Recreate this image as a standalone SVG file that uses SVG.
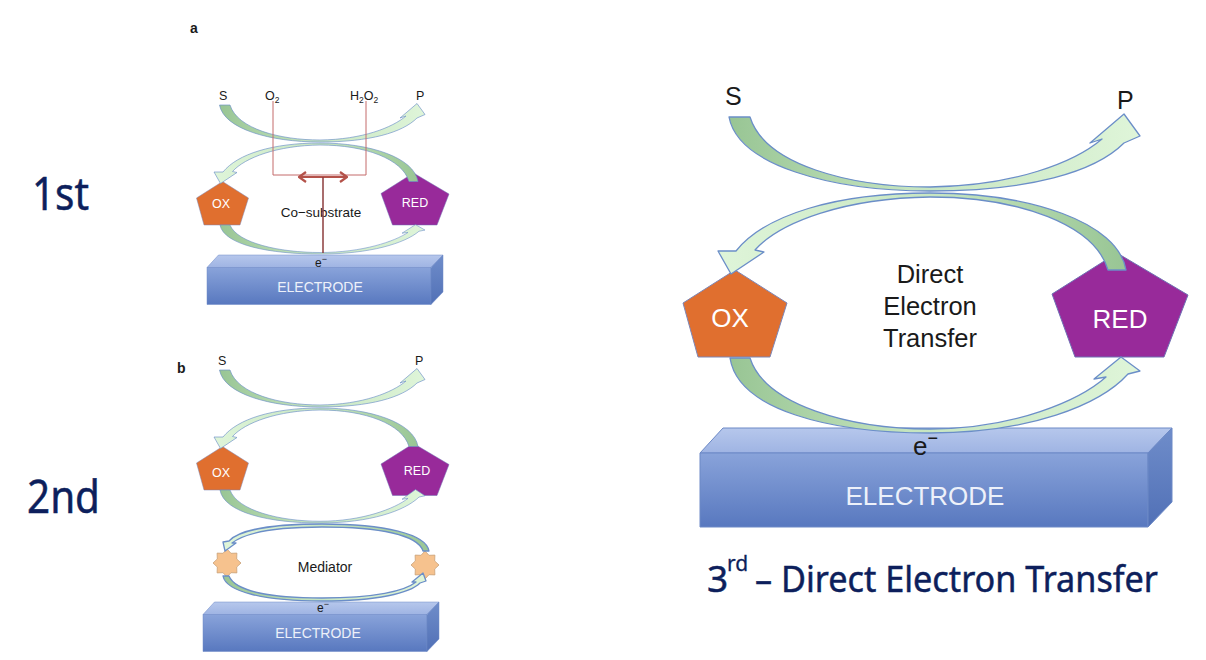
<svg xmlns="http://www.w3.org/2000/svg" width="1206" height="660" viewBox="0 0 1206 660">
<style>
.lbl{font-family:"Noto Sans","Open Sans",sans-serif;fill:#0d1f5c;stroke:#0d1f5c;stroke-width:0.5}
.t{font-family:"Liberation Sans",Arial,sans-serif;fill:#1a1a1a}
.w{font-family:"Liberation Sans",Arial,sans-serif;fill:#ffffff}
.el{font-family:"Liberation Sans",Arial,sans-serif;fill:#edf1fa}
.arw{stroke:#6b8ec8;stroke-width:1.3;stroke-linejoin:round}
.ox{fill:#e06f2f;stroke:#7d86b6;stroke-width:1}
.red{fill:#982a9a;stroke:#6f70b4;stroke-width:1}
.star{fill:#f6c28e;stroke:#c9a27a;stroke-width:0.8}
.eface{stroke:#6c89c6;stroke-width:1;stroke-linejoin:round}
</style>
<defs>
<linearGradient id="gLR" x1="0" y1="0" x2="1" y2="0"><stop offset="0" stop-color="#98c594"/><stop offset="0.45" stop-color="#c6e5c0"/><stop offset="1" stop-color="#dff5d9"/></linearGradient>
<linearGradient id="gRL" x1="1" y1="0" x2="0" y2="0"><stop offset="0" stop-color="#98c594"/><stop offset="0.45" stop-color="#c6e5c0"/><stop offset="1" stop-color="#dff5d9"/></linearGradient>
<linearGradient id="gFront" x1="0" y1="0" x2="0" y2="1"><stop offset="0" stop-color="#89a3da"/><stop offset="1" stop-color="#5878bf"/></linearGradient>
<linearGradient id="gTop" x1="0" y1="0" x2="0" y2="1"><stop offset="0" stop-color="#b6c7ec"/><stop offset="1" stop-color="#9fb4e3"/></linearGradient>
<linearGradient id="gSide" x1="0" y1="0" x2="0" y2="1"><stop offset="0" stop-color="#6f8dca"/><stop offset="1" stop-color="#5170b6"/></linearGradient>
<path id="arcTop" class="arw" fill="url(#gLR)" d="M729 117 C738 165 830 191 930 191 C1030 191 1095 172 1124 143 L1140 136 L1124 114 L1090 143 L1102 139 C1075 162 1015 186 930 187 C850 187 765 165 750 117 Z"/>
<path id="arcMid" class="arw" fill="url(#gRL)" d="M1126 270 C1118 222 1030 193 930 193 C835 193 765 215 736 251 L718 251 L731 274 L764 252 L755 250 C780 222 845 198 930 197 C1020 197 1095 225 1108 270 Z"/>
<path id="arcLow" class="arw" fill="url(#gLR)" d="M730 358 C738 410 830 433 930 433 C1030 433 1100 405 1128 374 L1140 371 L1121 357 L1094 379 L1106 377 C1080 400 1015 429 930 429 C850 429 765 405 750 358 Z"/>
<polygon id="pentOX" class="ox" points="735,270 787,303 770,357 698,357 683,303"/>
<polygon id="pentRED" class="red" points="1117,253 1188,295 1164,357 1075,357 1052,294"/>
<g id="electrodeShape">
<polygon class="eface" fill="url(#gTop)" points="700,453 723,428 1172,428 1148,453"/>
<rect class="eface" fill="url(#gFront)" x="700" y="453" width="448" height="74"/>
<polygon class="eface" fill="url(#gSide)" points="1148,453 1172,428 1172,502 1148,527"/>
</g>
<polygon id="star8" class="star" points="0,-14 4.02,-9.7 9.9,-9.9 9.7,-4.02 14,0 9.7,4.02 9.9,9.9 4.02,9.7 0,14 -4.02,9.7 -9.9,9.9 -9.7,4.02 -14,0 -9.7,-4.02 -9.9,-9.9 -4.02,-9.7"/>
</defs>

<rect width="1206" height="660" fill="#ffffff"/>

<!-- side labels -->
<g id="label-1st"><text class="lbl" x="32" y="210" font-size="45" textLength="57" lengthAdjust="spacingAndGlyphs">1st</text></g>
<g id="label-2nd"><text class="lbl" x="27" y="513" font-size="45" textLength="73" lengthAdjust="spacingAndGlyphs">2nd</text></g>
<g id="label-3rd">
<text class="lbl" x="707" y="592" font-size="37">3</text>
<text class="lbl" x="727" y="571" font-size="21" style="stroke-width:0.3">rd</text>
<text class="lbl" x="755" y="592" font-size="37" textLength="403" lengthAdjust="spacingAndGlyphs">– Direct Electron Transfer</text>
</g>

<!-- ===== panel a nodes ===== -->
<g id="a-title"><text class="t" x="190" y="33" font-size="14" font-weight="bold">a</text></g>
<g id="a-S"><text class="t" x="219" y="100" font-size="12.5">S</text></g>
<g id="a-O2"><text class="t" x="265" y="100" font-size="12.5">O<tspan font-size="8.5" dy="3">2</tspan></text></g>
<g id="a-H2O2"><text class="t" x="350" y="100" font-size="12.5">H<tspan font-size="8.5" dy="3">2</tspan><tspan dy="-3">O</tspan><tspan font-size="8.5" dy="3">2</tspan></text></g>
<g id="a-P"><text class="t" x="416" y="100" font-size="12.5">P</text></g>
<g id="a-electrode">
<use href="#electrodeShape" transform="translate(-143,41) scale(0.5)"/>
<text class="el" x="320" y="292" font-size="14" text-anchor="middle">ELECTRODE</text>
</g>
<g id="a-electron"><text class="t" x="315" y="267" font-size="12">e<tspan font-size="9" dy="-5">−</tspan></text></g>
<g id="a-ox">
<use href="#pentOX" transform="translate(-145,46.5) scale(0.5)"/>
<text class="w" x="221" y="208" font-size="12.5" text-anchor="middle">OX</text>
</g>
<g id="a-red">
<use href="#pentRED" transform="translate(-145,46.5) scale(0.5)"/>
<text class="w" x="415" y="207" font-size="12.5" text-anchor="middle">RED</text>
</g>
<g id="a-cosubstrate"><text class="t" x="321" y="217" font-size="13.5" text-anchor="middle" fill="#333">Co−substrate</text></g>

<!-- ===== panel b nodes ===== -->
<g id="b-title"><text class="t" x="177" y="373" font-size="14" font-weight="bold">b</text></g>
<g id="b-S"><text class="t" x="218" y="365" font-size="12.5">S</text></g>
<g id="b-P"><text class="t" x="415" y="365" font-size="12.5">P</text></g>
<g id="b-electrode">
<use href="#electrodeShape" transform="translate(-147,388) scale(0.5)"/>
<text class="el" x="318" y="638" font-size="14" text-anchor="middle">ELECTRODE</text>
</g>
<g id="b-electron"><text class="t" x="317" y="612" font-size="12">e<tspan font-size="9" dy="-5">−</tspan></text></g>
<g id="b-ox">
<use href="#pentOX" transform="translate(-145,311.5) scale(0.5)"/>
<text class="w" x="221" y="477" font-size="12.5" text-anchor="middle">OX</text>
</g>
<g id="b-red">
<use href="#pentRED" transform="translate(-145,317) scale(0.5)"/>
<text class="w" x="417" y="475" font-size="12.5" text-anchor="middle">RED</text>
</g>
<g id="b-mediator-left"><use href="#star8" transform="translate(227,563)"/></g>
<g id="b-mediator-right"><use href="#star8" transform="translate(425,565)"/></g>
<g id="b-mediator"><text class="t" x="325" y="572" font-size="14" text-anchor="middle" fill="#333">Mediator</text></g>

<!-- ===== panel c nodes ===== -->
<g id="c-S"><text class="t" x="725" y="105" font-size="25">S</text></g>
<g id="c-P"><text class="t" x="1117" y="109" font-size="25">P</text></g>
<g id="c-electrode">
<use href="#electrodeShape"/>
<text class="el" x="925" y="505" font-size="26" text-anchor="middle">ELECTRODE</text>
</g>
<g id="c-electron"><text class="t" x="913" y="455" font-size="26">e<tspan font-size="18" dy="-11">−</tspan></text></g>
<g id="c-ox">
<use href="#pentOX"/>
<text class="w" x="730" y="327" font-size="26" text-anchor="middle">OX</text>
</g>
<g id="c-red">
<use href="#pentRED"/>
<text class="w" x="1120" y="328" font-size="26" text-anchor="middle">RED</text>
</g>
<g id="c-det">
<text class="t" x="930" y="283" font-size="25.5" text-anchor="middle">Direct</text>
<text class="t" x="930" y="315" font-size="25.5" text-anchor="middle">Electron</text>
<text class="t" x="930" y="347" font-size="25.5" text-anchor="middle">Transfer</text>
</g>

<!-- ===== connectors ===== -->
<g id="connectors">
<!-- panel a -->
<use href="#arcTop" transform="translate(-145,46.5) scale(0.5)"/>
<use href="#arcMid" transform="translate(-145,46.5) scale(0.5)"/>
<use href="#arcLow" transform="translate(-145,86.5) scale(0.5,0.387)"/>
<path d="M273 101V175H366V101" fill="none" stroke="#c46a6a" stroke-width="1"/>
<path d="M299 177H347" fill="none" stroke="#b4524a" stroke-width="2.2"/>
<path d="M306 172L299 177L306 182M340 172L347 177L340 182" fill="none" stroke="#b4524a" stroke-width="2.2" stroke-linejoin="round"/>
<path d="M323 177V253" fill="none" stroke="#8d3c3c" stroke-width="1.5"/>
<!-- panel b -->
<use href="#arcTop" transform="translate(-145,311.5) scale(0.5)"/>
<use href="#arcMid" transform="translate(-145,311.5) scale(0.5)"/>
<use href="#arcLow" transform="translate(-145,332.5) scale(0.5,0.44)"/>
<path class="arw" fill="url(#gRL)" stroke-width="0.8" d="M429 551 C426 534 385 524 322 524 C268 524 238 531 229 541 L223 542 L225 551 L236 543 L232 543 C245 533 275 527 322 527 C380 527 418 535 423 551 Z"/>
<path class="arw" fill="url(#gLR)" stroke-width="0.8" d="M223 576 C226 592 265 601 322 601 C378 601 410 593 420 583 L426 581 L423 573 L412 582 L416 582 C405 591 375 598 322 598 C270 598 235 591 229 576 Z"/>
<!-- panel c -->
<use href="#arcTop"/>
<use href="#arcMid"/>
<use href="#arcLow"/>
</g>
</svg>
